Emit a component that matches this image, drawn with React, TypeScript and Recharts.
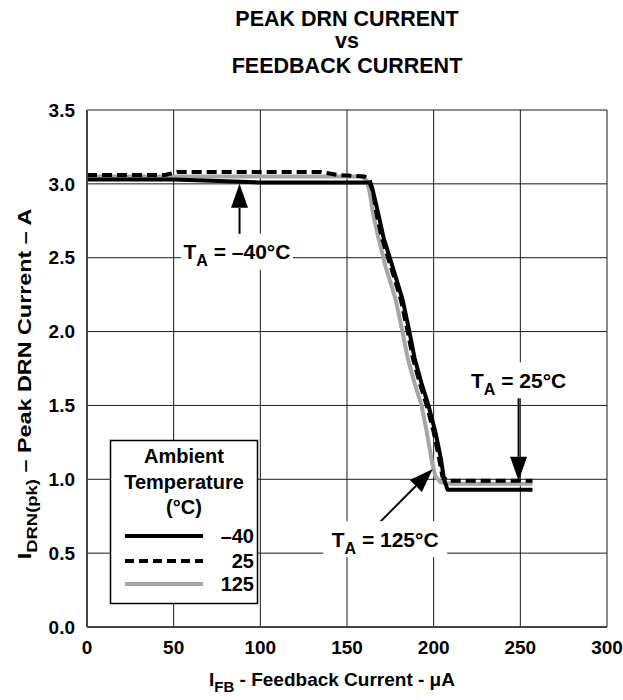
import React from 'react';
import { LineChart, Line, XAxis, YAxis, CartesianGrid, ReferenceLine, ReferenceDot } from 'recharts';

// Axis ticks
const xTicks = [0, 50, 100, 150, 200, 250, 300];
const yTicks = [0, 0.5, 1.0, 1.5, 2.0, 2.5, 3.0, 3.5];

// Series names (ambient temperature, °C)
const seriesNames = ['–40', '25', '125'];

// T_A = -40 °C
const ifbM40 = [0, 50, 100, 163, 165, 168, 171, 176, 182, 186, 189, 193, 197, 201, 204, 206, 208, 257];
const idrnM40 = [3.03, 3.03, 3.01, 3.01, 2.95, 2.8, 2.64, 2.45, 2.22, 2.0, 1.82, 1.65, 1.5, 1.32, 1.15, 1.0, 0.93, 0.93];

// T_A = 25 °C
const ifb25 = [0, 45, 52, 135, 145, 160, 163, 165, 167, 170, 175, 181, 185, 188, 192, 196, 200, 203, 205, 208, 257];
const idrn25 = [3.06, 3.06, 3.08, 3.08, 3.06, 3.05, 3.03, 2.95, 2.8, 2.64, 2.45, 2.22, 2.0, 1.82, 1.65, 1.5, 1.32, 1.15, 1.02, 0.99, 0.99];

// T_A = 125 °C
const ifb125 = [0, 158, 161, 163, 165, 168, 172, 178, 182, 185, 189, 193, 196, 199, 201, 204, 210, 257];
const idrn125 = [3.05, 3.05, 3.03, 2.95, 2.8, 2.64, 2.45, 2.22, 2.0, 1.82, 1.65, 1.5, 1.32, 1.12, 1.02, 0.98, 0.97, 0.97];

// Annotations: label text, label anchor (x, y), arrow start (x, y), arrow tip (x, y)
const annLabels = ['–40°C', '25°C', '125°C'];
const annLabelX = [86.5, 249, 172];
const annLabelY = [2.54, 1.67, 0.595];
const annFromX = [88, 249, 169];
const annFromY = [2.66, 1.55, 0.71];
const annToX = [88, 249, 199.5];
const annToY = [3.0, 0.99, 1.07];
const annBoxW = [112, 100, 124];

const FONT = '"Liberation Sans", Arial, Helvetica, sans-serif';

const zip = (xs: number[], ys: number[]) => xs.map((x, i) => ({ x, y: ys[i] }));
const dataM40 = zip(ifbM40, idrnM40);
const data25 = zip(ifb25, idrn25);
const data125 = zip(ifb125, idrn125);

const ArrowShape = (props: any) => {
  const { x1, y1, x2, y2 } = props;
  const dx = x2 - x1;
  const dy = y2 - y1;
  const len = Math.hypot(dx, dy) || 1;
  const ux = dx / len;
  const uy = dy / len;
  const hl = 24;
  const hw = 8.5;
  const bx = x2 - ux * hl;
  const by = y2 - uy * hl;
  const px = -uy;
  const py = ux;
  return (
    <g>
      <line x1={x1} y1={y1} x2={bx} y2={by} stroke="#000" strokeWidth={2} />
      <polygon
        points={`${x2},${y2} ${bx + px * hw},${by + py * hw} ${bx - px * hw},${by - py * hw}`}
        fill="#000"
      />
    </g>
  );
};

const makeLabelShape = (label: string, w: number) => (props: any) => {
  const { cx, cy } = props;
  return (
    <g>
      <rect x={cx - w / 2} y={cy - 18} width={w} height={36} fill="#fff" />
      <text
        x={cx}
        y={cy + 7.5}
        textAnchor="middle"
        fontSize={21}
        fontWeight="bold"
        fontFamily={FONT}
        fill="#000"
      >
        <tspan>T</tspan>
        <tspan dy={7} fontSize={16}>A</tspan>
        <tspan dy={-7}>{` = ${label}`}</tspan>
      </text>
    </g>
  );
};

const legendStyles = [
  { stroke: '#000', dash: undefined as string | undefined },
  { stroke: '#000', dash: '9 5' },
  { stroke: '#a6a6a6', dash: undefined as string | undefined },
];

export default function App() {
  return (
    <div style={{ position: 'absolute', left: 0, top: 0, width: 623, height: 700, background: '#fff' }}>
      <LineChart
        width={623}
        height={700}
        margin={{ top: 110, right: 16, bottom: 0, left: 0 }}
        style={{ fontFamily: FONT }}
      >
        <CartesianGrid stroke="#1a1a1a" strokeWidth={1} />
        <XAxis
          type="number"
          dataKey="x"
          domain={[0, 300]}
          ticks={xTicks}
          height={73}
          tickLine={false}
          tickSize={0}
          tickMargin={14}
          axisLine={{ stroke: '#444', strokeWidth: 2 }}
          tick={{ fontSize: 19, fontWeight: 'bold', fill: '#000', fontFamily: FONT }}
          allowDataOverflow
        />
        <YAxis
          type="number"
          domain={[0, 3.5]}
          ticks={yTicks}
          width={87}
          tickLine={false}
          tickSize={0}
          tickMargin={12}
          axisLine={{ stroke: '#444', strokeWidth: 2 }}
          tickFormatter={(v: number) => v.toFixed(1)}
          tick={{ fontSize: 19, fontWeight: 'bold', fill: '#000', fontFamily: FONT }}
          allowDataOverflow
        />
        <Line
          data={data125}
          dataKey="y"
          type="linear"
          stroke="#a6a6a6"
          strokeWidth={4}
          dot={false}
          strokeLinejoin="round"
          isAnimationActive={false}
          name={seriesNames[2]}
        />
        <Line
          data={dataM40}
          dataKey="y"
          type="linear"
          stroke="#000"
          strokeWidth={4}
          dot={false}
          strokeLinejoin="round"
          isAnimationActive={false}
          name={seriesNames[0]}
        />
        <Line
          data={data25}
          dataKey="y"
          type="linear"
          stroke="#000"
          strokeWidth={4}
          strokeDasharray="10 5"
          dot={false}
          strokeLinejoin="round"
          isAnimationActive={false}
          name={seriesNames[1]}
        />
        {annLabels.map((lab, i) => (
          <ReferenceDot
            key={'lab' + i}
            x={annLabelX[i]}
            y={annLabelY[i]}
            r={1}
            shape={makeLabelShape(lab, annBoxW[i])}
          />
        ))}
        {annLabels.map((lab, i) => (
          <ReferenceLine
            key={'arr' + i}
            segment={[
              { x: annFromX[i], y: annFromY[i] },
              { x: annToX[i], y: annToY[i] },
            ]}
            shape={ArrowShape}
          />
        ))}
      </LineChart>
      <svg
        width={623}
        height={700}
        style={{ position: 'absolute', left: 0, top: 0, pointerEvents: 'none' }}
        fontFamily={FONT}
        fontWeight="bold"
      >
        <text x={347} y={26} textAnchor="middle" fontSize={21.5}>PEAK DRN CURRENT</text>
        <text x={347} y={48} textAnchor="middle" fontSize={21.5}>vs</text>
        <text x={347} y={73} textAnchor="middle" fontSize={21.5}>FEEDBACK CURRENT</text>

        <text x={332} y={686} textAnchor="middle" fontSize={19}>
          <tspan>I</tspan>
          <tspan dy={6} fontSize={15}>FB</tspan>
          <tspan dy={-6}> - Feedback Current - μA</tspan>
        </text>

        <g transform="translate(31 384) rotate(-90) scale(1.23 1)">
          <text x={0} y={0} textAnchor="middle" fontSize={19}>
            <tspan>I</tspan>
            <tspan dy={6} fontSize={15}>DRN(pk)</tspan>
            <tspan dy={-6}> – Peak DRN Current – A</tspan>
          </text>
        </g>

        <rect x={110.5} y={440.5} width={147} height={163} fill="#fff" stroke="#000" strokeWidth={1.5} />
        <text x={184} y={463} textAnchor="middle" fontSize={20}>Ambient</text>
        <text x={184} y={489} textAnchor="middle" fontSize={20}>Temperature</text>
        <text x={184} y={514} textAnchor="middle" fontSize={20}>(°C)</text>
        {seriesNames.map((n, i) => {
          const ly = [536, 561, 584][i];
          return (
            <g key={n}>
              <line
                x1={125}
                x2={203}
                y1={ly}
                y2={ly}
                stroke={legendStyles[i].stroke}
                strokeWidth={4}
                strokeDasharray={legendStyles[i].dash}
              />
              <text x={254} y={ly + 7} textAnchor="end" fontSize={20}>{n}</text>
            </g>
          );
        })}
      </svg>
    </div>
  );
}
